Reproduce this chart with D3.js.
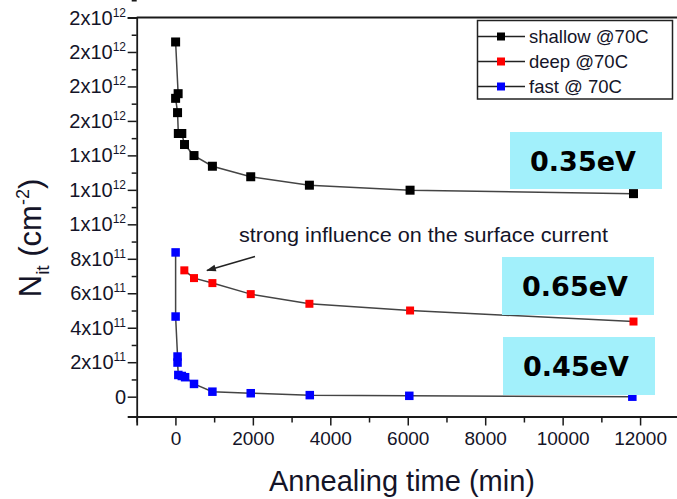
<!DOCTYPE html>
<html>
<head>
<meta charset="utf-8">
<script src="https://cdn.jsdelivr.net/npm/d3@7"></script>
<style>
  body { margin: 0; background: #fff; }
  svg { display: block; }
  text { font-family: "Liberation Sans", Arial, sans-serif; fill: #141428; }
</style>
</head>
<body>
<div id="chart"></div>
<script>
// annealing time (min) and Nit (cm^-2)
var shallowTime = [5, 70, 5, 55, 75, 165, 235, 480, 955, 1945, 3460, 6060, 11830];
var shallowNit = [2.058e12, 1.758e12, 1.731e12, 1.648e12, 1.527e12, 1.527e12, 1.463e12, 1.399e12, 1.337e12, 1.276e12, 1.227e12, 1.198e12, 1.178e12];

var deepTime = [230, 480, 955, 1945, 3460, 6060, 11830];
var deepNit = [7.33e11, 6.88e11, 6.59e11, 5.95e11, 5.39e11, 5.0e11, 4.36e11];

var fastTime = [5, 5, 55, 55, 75, 165, 250, 480, 955, 1945, 3470, 6040, 11800];
var fastNit = [8.37e11, 4.65e11, 2.33e11, 1.98e11, 1.26e11, 1.2e11, 1.13e11, 0.74e11, 0.29e11, 0.2e11, 0.09e11, 0.05e11, 0];

var seriesNames = ["shallow @70C", "deep @70C", "fast @ 70C"];
var seriesColors = ["#000000", "#ff0000", "#0000ff"];

var xTicks = [0, 2000, 4000, 6000, 8000, 10000, 12000];
var xMinorTicks = [-1000, 1000, 3000, 5000, 7000, 9000, 11000, 13000];
var yTicks = [0, 2e11, 4e11, 6e11, 8e11, 1e12, 1.2e12, 1.4e12, 1.6e12, 1.8e12, 2e12, 2.2e12];
var yTickMant = ["0", "2", "4", "6", "8", "1", "1", "1", "2", "2", "2", "2"];
var yTickExp = ["", "11", "11", "11", "11", "12", "12", "12", "12", "12", "12", "12"];

var energyLabels = ["0.35eV", "0.65eV", "0.45eV"];
var annotationText = "strong influence on the surface current";

var width = 677, height = 499;
var svg = d3.select("#chart").append("svg")
  .attr("width", width)
  .attr("height", height);

var x = d3.scaleLinear().domain([-1000, 13000]).range([136.7, 678.8]);
var y = d3.scaleLinear().domain([-1.15e11, 2.2e12]).range([416.5, 17.5]);

var axisColor = "#1a1a1a";

// frame top
svg.append("line")
  .attr("x1", x(-1000)).attr("x2", x(13000))
  .attr("y1", y(2.2e12)).attr("y2", y(2.2e12))
  .attr("stroke", axisColor).attr("stroke-width", 1.8);

// x axis
var xAxis = svg.append("g")
  .attr("transform", "translate(0," + y(-1.15e11) + ")")
  .call(d3.axisBottom(x).tickValues(xTicks).tickSize(9).tickPadding(6).tickFormat(d3.format("d")));
svg.append("g")
  .attr("transform", "translate(0," + y(-1.15e11) + ")")
  .call(d3.axisBottom(x).tickValues(xMinorTicks).tickSize(6).tickFormat(""))
  .select(".domain").remove();
xAxis.selectAll("text").style("font-size", "19px").attr("fill", "#141428");

// y axis
var yAxis = svg.append("g")
  .attr("transform", "translate(" + x(-1000) + ",0)")
  .call(d3.axisLeft(y).tickValues(yTicks).tickSize(9).tickFormat(""));
svg.append("g")
  .attr("transform", "translate(" + x(-1000) + ",0)")
  .call(d3.axisLeft(y).tickValues(yTicks.map(function(d) { return d + 1e11; })).tickSize(5).tickFormat(""))
  .select(".domain").remove();

svg.selectAll(".domain").attr("stroke", axisColor).attr("stroke-width", 1.8);
svg.selectAll(".tick line").attr("stroke", axisColor).attr("stroke-width", 1.5);

var yLab = svg.append("g");
yTicks.forEach(function(v, i) {
  var t = yLab.append("text")
    .attr("x", 126)
    .attr("y", y(v) + 7)
    .attr("text-anchor", "end")
    .style("font-size", "20px");
  t.append("tspan").text(yTickMant[i] + (yTickExp[i] ? "x10" : ""));
  if (yTickExp[i]) {
    t.append("tspan").attr("dy", -8).style("font-size", "12px").text(yTickExp[i]);
  }
});

// axis titles
svg.append("text")
  .attr("x", 402).attr("y", 491)
  .attr("text-anchor", "middle")
  .style("font-size", "29px")
  .text("Annealing time (min)");

var yt = svg.append("text")
  .attr("transform", "translate(41,238) rotate(-90)")
  .attr("text-anchor", "middle")
  .style("font-size", "31px");
yt.append("tspan").text("N");
yt.append("tspan").attr("dy", 8).style("font-size", "19px").text("it");
yt.append("tspan").attr("dy", -8).text(" (cm");
yt.append("tspan").attr("dy", -12).style("font-size", "18px").text("-2");
yt.append("tspan").attr("dy", 12).text(")");

// series
var series = [
  { time: shallowTime, nit: shallowNit, size: 9 },
  { time: deepTime, nit: deepNit, size: 8 },
  { time: fastTime, nit: fastNit, size: 8.5 }
];

var line = d3.line()
  .x(function(d) { return x(d[0]); })
  .y(function(d) { return y(d[1]); });

series.forEach(function(s, si) {
  var pts = s.time.map(function(t, i) { return [t, s.nit[i]]; });
  svg.append("path")
    .datum(pts)
    .attr("d", line)
    .attr("fill", "none")
    .attr("stroke", "#444")
    .attr("stroke-width", 1.5);
  svg.append("g").selectAll("rect")
    .data(pts)
    .enter().append("rect")
    .attr("x", function(d) { return x(d[0]) - s.size / 2; })
    .attr("y", function(d) { return y(d[1]) - s.size / 2; })
    .attr("width", s.size)
    .attr("height", s.size)
    .attr("fill", seriesColors[si]);
});

// annotation with arrow
svg.append("defs").append("marker")
  .attr("id", "arrow")
  .attr("viewBox", "0 0 10 10")
  .attr("refX", 9).attr("refY", 5)
  .attr("markerWidth", 9).attr("markerHeight", 7)
  .attr("orient", "auto")
  .append("path").attr("d", "M0,1.5 L10,5 L0,8.5 Z").attr("fill", "#222");

svg.append("line")
  .attr("x1", 255).attr("y1", 256.5)
  .attr("x2", 207).attr("y2", 270.5)
  .attr("stroke", "#222").attr("stroke-width", 1.4)
  .attr("marker-end", "url(#arrow)");

svg.append("text")
  .attr("x", 239).attr("y", 242)
  .style("font-size", "20.5px")
  .attr("textLength", 369)
  .attr("lengthAdjust", "spacingAndGlyphs")
  .text(annotationText);

// energy label boxes
var boxes = [
  { x0: 510, y0: 132, w: 152, h: 57 },
  { x0: 502, y0: 257, w: 152, h: 58 },
  { x0: 503, y0: 337, w: 152, h: 58 }
];
boxes.forEach(function(b, i) {
  svg.append("rect")
    .attr("x", b.x0).attr("y", b.y0)
    .attr("width", b.w).attr("height", b.h)
    .attr("fill", "#a2f0fb");
  svg.append("text")
    .attr("x", b.x0 + b.w / 2 - 3).attr("y", b.y0 + b.h / 2 + 10)
    .attr("text-anchor", "middle")
    .style("font-family", "'DejaVu Sans', sans-serif")
    .style("font-weight", "bold")
    .style("font-size", "27px")
    .style("fill", "#000")
    .text(energyLabels[i]);
});

// legend
var legend = svg.append("g");
legend.append("rect")
  .attr("x", 477.5).attr("y", 20.5)
  .attr("width", 195).attr("height", 78.5)
  .attr("fill", "#fff")
  .attr("stroke", "#222").attr("stroke-width", 1.5);
seriesNames.forEach(function(name, i) {
  var ry = 36.5 + i * 25;
  legend.append("line")
    .attr("x1", 478).attr("x2", 525)
    .attr("y1", ry).attr("y2", ry)
    .attr("stroke", "#222").attr("stroke-width", 1.4);
  legend.append("rect")
    .attr("x", 497).attr("y", ry - 4)
    .attr("width", 8).attr("height", 8)
    .attr("fill", seriesColors[i]);
  legend.append("text")
    .attr("x", 529).attr("y", ry + 6.5)
    .style("font-size", "18.5px")
    .text(name);
});
</script>
</body>
</html>
